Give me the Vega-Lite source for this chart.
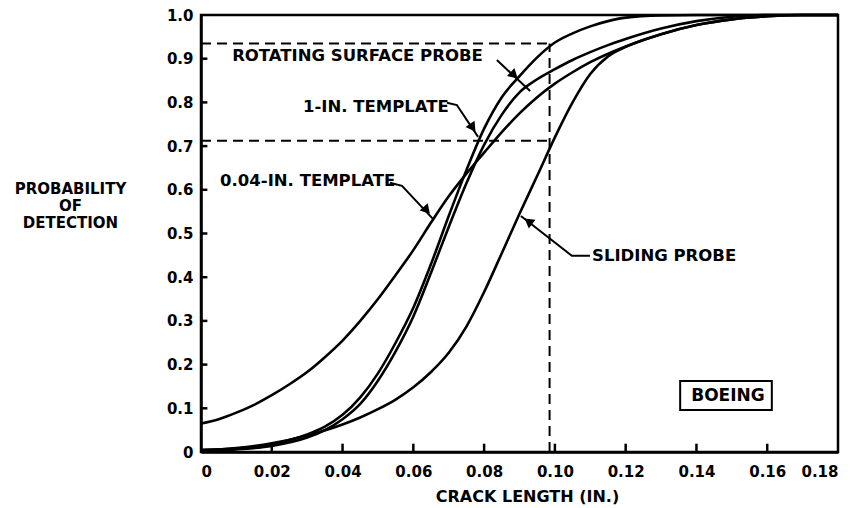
{
  "$schema": "https://vega.github.io/schema/vega-lite/v6.json",
  "autosize": "none",
  "width": 637,
  "height": 437,
  "padding": {"left": 201, "top": 15, "right": 19, "bottom": 56},
  "background": "white",
  "config": {
    "view": {"stroke": "black", "strokeWidth": 2.5},
    "font": "DejaVu Sans",
    "axis": {
      "grid": false,
      "domainColor": "black",
      "domainWidth": 2.5,
      "labelFont": "DejaVu Sans",
      "labelFontWeight": "bold",
      "labelFontSize": 15,
      "labelColor": "black",
      "titleFont": "DejaVu Sans",
      "titleFontWeight": "bold",
      "titleFontSize": 16,
      "titleColor": "black"
    }
  },
  "datasets": {
    "curves": [
      {"series": "ROTATING SURFACE PROBE", "x": 0, "p": 0.005},
      {"series": "ROTATING SURFACE PROBE", "x": 0.01, "p": 0.008},
      {"series": "ROTATING SURFACE PROBE", "x": 0.02, "p": 0.018},
      {"series": "ROTATING SURFACE PROBE", "x": 0.03, "p": 0.04},
      {"series": "ROTATING SURFACE PROBE", "x": 0.035, "p": 0.058},
      {"series": "ROTATING SURFACE PROBE", "x": 0.04, "p": 0.085},
      {"series": "ROTATING SURFACE PROBE", "x": 0.045, "p": 0.125},
      {"series": "ROTATING SURFACE PROBE", "x": 0.05, "p": 0.18},
      {"series": "ROTATING SURFACE PROBE", "x": 0.055, "p": 0.25},
      {"series": "ROTATING SURFACE PROBE", "x": 0.06, "p": 0.33},
      {"series": "ROTATING SURFACE PROBE", "x": 0.065, "p": 0.43},
      {"series": "ROTATING SURFACE PROBE", "x": 0.07, "p": 0.54},
      {"series": "ROTATING SURFACE PROBE", "x": 0.075, "p": 0.645},
      {"series": "ROTATING SURFACE PROBE", "x": 0.08, "p": 0.74},
      {"series": "ROTATING SURFACE PROBE", "x": 0.085, "p": 0.812},
      {"series": "ROTATING SURFACE PROBE", "x": 0.09, "p": 0.86},
      {"series": "ROTATING SURFACE PROBE", "x": 0.095, "p": 0.903},
      {"series": "ROTATING SURFACE PROBE", "x": 0.1, "p": 0.937},
      {"series": "ROTATING SURFACE PROBE", "x": 0.105, "p": 0.958},
      {"series": "ROTATING SURFACE PROBE", "x": 0.11, "p": 0.974},
      {"series": "ROTATING SURFACE PROBE", "x": 0.115, "p": 0.986},
      {"series": "ROTATING SURFACE PROBE", "x": 0.12, "p": 0.994},
      {"series": "ROTATING SURFACE PROBE", "x": 0.13, "p": 0.999},
      {"series": "ROTATING SURFACE PROBE", "x": 0.14, "p": 1.0},
      {"series": "ROTATING SURFACE PROBE", "x": 0.18, "p": 1.0},
      {"series": "1-IN. TEMPLATE", "x": 0, "p": 0.003},
      {"series": "1-IN. TEMPLATE", "x": 0.01, "p": 0.006},
      {"series": "1-IN. TEMPLATE", "x": 0.02, "p": 0.014},
      {"series": "1-IN. TEMPLATE", "x": 0.03, "p": 0.033},
      {"series": "1-IN. TEMPLATE", "x": 0.035, "p": 0.05},
      {"series": "1-IN. TEMPLATE", "x": 0.04, "p": 0.075},
      {"series": "1-IN. TEMPLATE", "x": 0.045, "p": 0.11},
      {"series": "1-IN. TEMPLATE", "x": 0.05, "p": 0.163},
      {"series": "1-IN. TEMPLATE", "x": 0.055, "p": 0.23},
      {"series": "1-IN. TEMPLATE", "x": 0.06, "p": 0.31},
      {"series": "1-IN. TEMPLATE", "x": 0.065, "p": 0.41},
      {"series": "1-IN. TEMPLATE", "x": 0.07, "p": 0.515},
      {"series": "1-IN. TEMPLATE", "x": 0.075, "p": 0.615},
      {"series": "1-IN. TEMPLATE", "x": 0.08, "p": 0.703},
      {"series": "1-IN. TEMPLATE", "x": 0.085, "p": 0.772},
      {"series": "1-IN. TEMPLATE", "x": 0.09, "p": 0.823},
      {"series": "1-IN. TEMPLATE", "x": 0.095, "p": 0.853},
      {"series": "1-IN. TEMPLATE", "x": 0.1, "p": 0.876},
      {"series": "1-IN. TEMPLATE", "x": 0.105, "p": 0.897},
      {"series": "1-IN. TEMPLATE", "x": 0.11, "p": 0.915},
      {"series": "1-IN. TEMPLATE", "x": 0.115, "p": 0.931},
      {"series": "1-IN. TEMPLATE", "x": 0.12, "p": 0.945},
      {"series": "1-IN. TEMPLATE", "x": 0.13, "p": 0.969},
      {"series": "1-IN. TEMPLATE", "x": 0.14, "p": 0.986},
      {"series": "1-IN. TEMPLATE", "x": 0.15, "p": 0.996},
      {"series": "1-IN. TEMPLATE", "x": 0.16, "p": 1.0},
      {"series": "1-IN. TEMPLATE", "x": 0.18, "p": 1.0},
      {"series": "0.04-IN. TEMPLATE", "x": 0, "p": 0.065},
      {"series": "0.04-IN. TEMPLATE", "x": 0.005, "p": 0.075},
      {"series": "0.04-IN. TEMPLATE", "x": 0.01, "p": 0.09},
      {"series": "0.04-IN. TEMPLATE", "x": 0.015, "p": 0.108},
      {"series": "0.04-IN. TEMPLATE", "x": 0.02, "p": 0.13},
      {"series": "0.04-IN. TEMPLATE", "x": 0.025, "p": 0.155},
      {"series": "0.04-IN. TEMPLATE", "x": 0.03, "p": 0.183},
      {"series": "0.04-IN. TEMPLATE", "x": 0.035, "p": 0.217},
      {"series": "0.04-IN. TEMPLATE", "x": 0.04, "p": 0.255},
      {"series": "0.04-IN. TEMPLATE", "x": 0.045, "p": 0.3},
      {"series": "0.04-IN. TEMPLATE", "x": 0.05, "p": 0.35},
      {"series": "0.04-IN. TEMPLATE", "x": 0.055, "p": 0.405},
      {"series": "0.04-IN. TEMPLATE", "x": 0.06, "p": 0.462},
      {"series": "0.04-IN. TEMPLATE", "x": 0.065, "p": 0.525},
      {"series": "0.04-IN. TEMPLATE", "x": 0.07, "p": 0.585},
      {"series": "0.04-IN. TEMPLATE", "x": 0.075, "p": 0.637},
      {"series": "0.04-IN. TEMPLATE", "x": 0.08, "p": 0.685},
      {"series": "0.04-IN. TEMPLATE", "x": 0.085, "p": 0.732},
      {"series": "0.04-IN. TEMPLATE", "x": 0.09, "p": 0.775},
      {"series": "0.04-IN. TEMPLATE", "x": 0.095, "p": 0.812},
      {"series": "0.04-IN. TEMPLATE", "x": 0.1, "p": 0.843},
      {"series": "0.04-IN. TEMPLATE", "x": 0.105, "p": 0.869},
      {"series": "0.04-IN. TEMPLATE", "x": 0.11, "p": 0.892},
      {"series": "0.04-IN. TEMPLATE", "x": 0.12, "p": 0.928},
      {"series": "0.04-IN. TEMPLATE", "x": 0.13, "p": 0.956},
      {"series": "0.04-IN. TEMPLATE", "x": 0.14, "p": 0.977},
      {"series": "0.04-IN. TEMPLATE", "x": 0.15, "p": 0.99},
      {"series": "0.04-IN. TEMPLATE", "x": 0.16, "p": 0.997},
      {"series": "0.04-IN. TEMPLATE", "x": 0.17, "p": 1.0},
      {"series": "0.04-IN. TEMPLATE", "x": 0.18, "p": 1.0},
      {"series": "SLIDING PROBE", "x": 0, "p": 0.004},
      {"series": "SLIDING PROBE", "x": 0.01, "p": 0.009},
      {"series": "SLIDING PROBE", "x": 0.02, "p": 0.02},
      {"series": "SLIDING PROBE", "x": 0.03, "p": 0.038},
      {"series": "SLIDING PROBE", "x": 0.04, "p": 0.063},
      {"series": "SLIDING PROBE", "x": 0.045, "p": 0.079},
      {"series": "SLIDING PROBE", "x": 0.05, "p": 0.098},
      {"series": "SLIDING PROBE", "x": 0.055, "p": 0.12},
      {"series": "SLIDING PROBE", "x": 0.06, "p": 0.148},
      {"series": "SLIDING PROBE", "x": 0.065, "p": 0.183},
      {"series": "SLIDING PROBE", "x": 0.07, "p": 0.227},
      {"series": "SLIDING PROBE", "x": 0.075, "p": 0.287},
      {"series": "SLIDING PROBE", "x": 0.08, "p": 0.366},
      {"series": "SLIDING PROBE", "x": 0.085, "p": 0.455},
      {"series": "SLIDING PROBE", "x": 0.09, "p": 0.545},
      {"series": "SLIDING PROBE", "x": 0.095, "p": 0.632},
      {"series": "SLIDING PROBE", "x": 0.1, "p": 0.72},
      {"series": "SLIDING PROBE", "x": 0.105, "p": 0.8},
      {"series": "SLIDING PROBE", "x": 0.11, "p": 0.865},
      {"series": "SLIDING PROBE", "x": 0.115, "p": 0.905},
      {"series": "SLIDING PROBE", "x": 0.12, "p": 0.927},
      {"series": "SLIDING PROBE", "x": 0.13, "p": 0.956},
      {"series": "SLIDING PROBE", "x": 0.14, "p": 0.977},
      {"series": "SLIDING PROBE", "x": 0.15, "p": 0.99},
      {"series": "SLIDING PROBE", "x": 0.16, "p": 0.997},
      {"series": "SLIDING PROBE", "x": 0.17, "p": 1.0},
      {"series": "SLIDING PROBE", "x": 0.18, "p": 1.0}
    ],
    "guides": [
      {"x": 0, "x2": 0.0985, "y": 0.935, "y2": 0.935},
      {"x": 0, "x2": 0.0985, "y": 0.712, "y2": 0.712},
      {"x": 0.0985, "x2": 0.0985, "y": 0, "y2": 0.935}
    ],
    "xticks": [
      {"t": 0.02}, {"t": 0.04}, {"t": 0.06}, {"t": 0.08}, {"t": 0.1},
      {"t": 0.12}, {"t": 0.14}, {"t": 0.16}
    ],
    "yticks": [
      {"t": 0.1}, {"t": 0.2}, {"t": 0.3}, {"t": 0.4}, {"t": 0.5},
      {"t": 0.6}, {"t": 0.7}, {"t": 0.8}, {"t": 0.9}
    ],
    "leaders": [
      {"id": "rot", "seq": 1, "x": 0.0836, "y": 0.897},
      {"id": "rot", "seq": 2, "x": 0.093, "y": 0.826},
      {"id": "one", "seq": 1, "x": 0.0695, "y": 0.799},
      {"id": "one", "seq": 2, "x": 0.0723, "y": 0.794},
      {"id": "one", "seq": 3, "x": 0.0783, "y": 0.721},
      {"id": "small", "seq": 1, "x": 0.0534, "y": 0.616},
      {"id": "small", "seq": 2, "x": 0.0568, "y": 0.609},
      {"id": "small", "seq": 3, "x": 0.0656, "y": 0.533},
      {"id": "slide", "seq": 1, "x": 0.1099, "y": 0.449},
      {"id": "slide", "seq": 2, "x": 0.1048, "y": 0.449},
      {"id": "slide", "seq": 3, "x": 0.0904, "y": 0.54}
    ],
    "heads": [
      {"id": "rot", "x": 0.0885, "y": 0.862},
      {"id": "one", "x": 0.0768, "y": 0.742},
      {"id": "small", "x": 0.0638, "y": 0.553},
      {"id": "slide", "x": 0.0925, "y": 0.528}
    ],
    "labels": [
      {"text": "ROTATING SURFACE PROBE", "x": 0.0088, "y": 0.906},
      {"text": "1-IN. TEMPLATE", "x": 0.0288, "y": 0.79},
      {"text": "0.04-IN. TEMPLATE", "x": 0.0054, "y": 0.619},
      {"text": "SLIDING PROBE", "x": 0.1105, "y": 0.449}
    ],
    "stamp": [
      {"text": "BOEING", "x": 0.1354, "x2": 0.1613, "y": 0.1625, "y2": 0.0961, "xc": 0.1489, "yc": 0.129}
    ]
  },
  "layer": [
    {
      "data": {"name": "curves"},
      "mark": {"type": "line", "color": "black", "strokeWidth": 2.6, "interpolate": "monotone"},
      "encoding": {
        "x": {
          "field": "x", "type": "quantitative",
          "scale": {"domain": [0, 0.18], "nice": false, "zero": false},
          "axis": {
            "values": [0, 0.02, 0.04, 0.06, 0.08, 0.1, 0.12, 0.14, 0.16, 0.18],
            "labelExpr": "datum.value == 0 ? '0' : format(datum.value, '.2f')",
            "ticks": false,
            "labelPadding": 12,
            "labelBaseline": "top",
            "title": "CRACK LENGTH (IN.)",
            "titleX": 326,
            "titleY": 49,
            "titleAlign": "center",
            "titleBaseline": "alphabetic"
          }
        },
        "y": {
          "field": "p", "type": "quantitative",
          "scale": {"domain": [0, 1], "nice": false},
          "axis": {
            "values": [0, 0.1, 0.2, 0.3, 0.4, 0.5, 0.6, 0.7, 0.8, 0.9, 1.0],
            "labelExpr": "datum.value == 0 ? '0' : format(datum.value, '.1f')",
            "ticks": false,
            "labelPadding": 8,
            "title": ["PROBABILITY", "OF", "DETECTION"],
            "titleFontSize": 15,
            "titleAngle": 0,
            "titleAlign": "center",
            "titleBaseline": "alphabetic",
            "titleLineHeight": 17,
            "titleX": -131,
            "titleY": 178
          }
        },
        "detail": {"field": "series"}
      }
    },
    {
      "data": {"name": "xticks"},
      "mark": {"type": "rule", "color": "black", "strokeWidth": 2.5},
      "encoding": {
        "x": {"field": "t", "type": "quantitative"},
        "y": {"datum": 0, "type": "quantitative"},
        "y2": {"datum": 0.019}
      }
    },
    {
      "data": {"name": "yticks"},
      "mark": {"type": "rule", "color": "black", "strokeWidth": 2.5},
      "encoding": {
        "y": {"field": "t", "type": "quantitative"},
        "x": {"datum": 0, "type": "quantitative"},
        "x2": {"datum": 0.0018}
      }
    },
    {
      "data": {"name": "guides"},
      "mark": {"type": "rule", "color": "black", "strokeWidth": 2, "strokeDash": [10, 6]},
      "encoding": {
        "x": {"field": "x", "type": "quantitative"},
        "x2": {"field": "x2"},
        "y": {"field": "y", "type": "quantitative"},
        "y2": {"field": "y2"}
      }
    },
    {
      "data": {"name": "leaders"},
      "mark": {"type": "line", "color": "black", "strokeWidth": 2},
      "encoding": {
        "x": {"field": "x", "type": "quantitative"},
        "y": {"field": "y", "type": "quantitative"},
        "detail": {"field": "id"},
        "order": {"field": "seq"}
      }
    },
    {
      "data": {"name": "heads"},
      "transform": [{"filter": "datum.id == 'rot'"}],
      "mark": {"type": "point", "shape": "triangle-up", "filled": true, "color": "black", "opacity": 1, "size": 120, "angle": 133},
      "encoding": {"x": {"field": "x", "type": "quantitative"}, "y": {"field": "y", "type": "quantitative"}}
    },
    {
      "data": {"name": "heads"},
      "transform": [{"filter": "datum.id == 'one'"}],
      "mark": {"type": "point", "shape": "triangle-up", "filled": true, "color": "black", "opacity": 1, "size": 120, "angle": 145},
      "encoding": {"x": {"field": "x", "type": "quantitative"}, "y": {"field": "y", "type": "quantitative"}}
    },
    {
      "data": {"name": "heads"},
      "transform": [{"filter": "datum.id == 'small'"}],
      "mark": {"type": "point", "shape": "triangle-up", "filled": true, "color": "black", "opacity": 1, "size": 120, "angle": 138},
      "encoding": {"x": {"field": "x", "type": "quantitative"}, "y": {"field": "y", "type": "quantitative"}}
    },
    {
      "data": {"name": "heads"},
      "transform": [{"filter": "datum.id == 'slide'"}],
      "mark": {"type": "point", "shape": "triangle-up", "filled": true, "color": "black", "opacity": 1, "size": 120, "angle": 307},
      "encoding": {"x": {"field": "x", "type": "quantitative"}, "y": {"field": "y", "type": "quantitative"}}
    },
    {
      "data": {"name": "labels"},
      "mark": {"type": "text", "align": "left", "baseline": "middle", "font": "DejaVu Sans", "fontWeight": "bold", "fontSize": 16.5, "color": "black"},
      "encoding": {
        "x": {"field": "x", "type": "quantitative"},
        "y": {"field": "y", "type": "quantitative"},
        "text": {"field": "text"}
      }
    },
    {
      "data": {"name": "stamp"},
      "mark": {"type": "rect", "fill": "white", "stroke": "black", "strokeWidth": 2},
      "encoding": {
        "x": {"field": "x", "type": "quantitative"},
        "x2": {"field": "x2"},
        "y": {"field": "y", "type": "quantitative"},
        "y2": {"field": "y2"}
      }
    },
    {
      "data": {"name": "stamp"},
      "mark": {"type": "text", "align": "center", "baseline": "middle", "font": "DejaVu Sans", "fontWeight": "bold", "fontSize": 17, "color": "black"},
      "encoding": {
        "x": {"field": "xc", "type": "quantitative"},
        "y": {"field": "yc", "type": "quantitative"},
        "text": {"field": "text"}
      }
    }
  ]
}
